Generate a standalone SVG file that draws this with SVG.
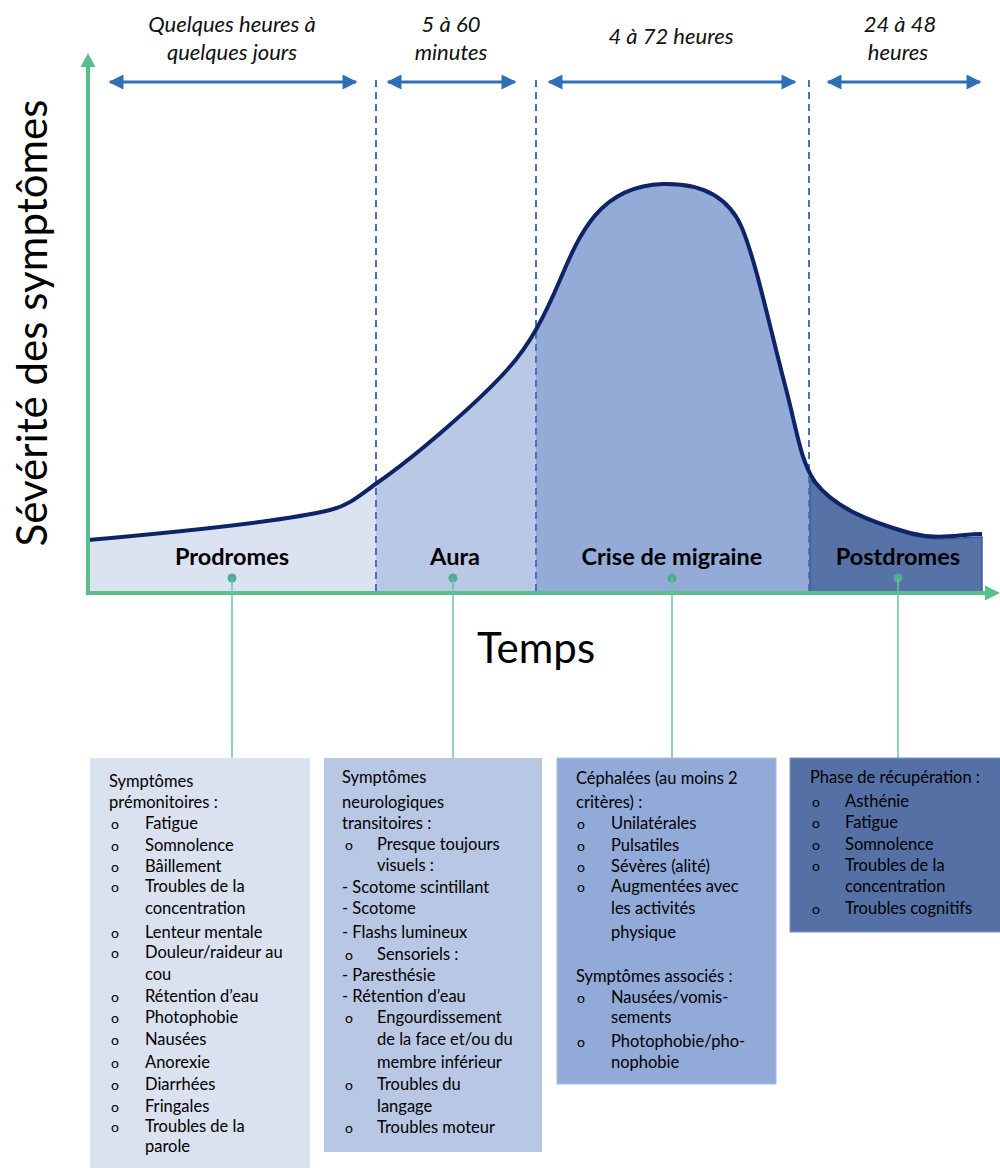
<svg xmlns="http://www.w3.org/2000/svg" width="1000" height="1168" viewBox="0 0 1000 1168">
<style>
.top{font-family:Lato,"Liberation Sans",sans-serif;font-style:italic;font-size:22px;fill:#111;text-anchor:middle}
.phase{font-family:Lato,"Liberation Sans",sans-serif;font-weight:bold;font-size:23.5px;fill:#000;text-anchor:middle}
.bx{font-family:Lato,"Liberation Sans",sans-serif;font-size:16.5px;fill:#000}
.bul{font-family:Lato,"Liberation Sans",sans-serif;font-size:14px;fill:#000}
.axis{stroke:#5BBE8D;stroke-width:4;fill:none}
.dash{stroke:#4A72C4;stroke-width:2;stroke-dasharray:7 5;fill:none}
.dur{stroke:#2F6EBA;stroke-width:3;fill:none;marker-start:url(#ah);marker-end:url(#ah)}
.conn{stroke:#6CC0A8;stroke-width:1.5;fill:none}
.dot{fill:#4FAE92}
</style>
<defs>
<marker id="ah" viewBox="0 0 10 10" refX="9" refY="5" markerWidth="5.5" markerHeight="5" orient="auto-start-reverse" markerUnits="strokeWidth">
<path d="M0,0 L10,5 L0,10 Z" fill="#2F6EBA"/>
</marker>
<path id="curve" d="M88,540 C200,530 290,520 330,510 C350,505 360,495 377,483 C420,453 480,400 507,370 C530,345 545,315 560,280 C580,233 600,186 663,184 C700,183 728,195 742,228 C756,262 768,320 785,385 C797,430 800,460 815,482 C835,508 870,522 910,533 C940,541 960,534 982,534"/>
<clipPath id="cP"><rect x="88" y="0" width="288" height="600"/></clipPath>
<clipPath id="cA"><rect x="376" y="0" width="160" height="600"/></clipPath>
<clipPath id="cC"><rect x="536" y="0" width="274" height="600"/></clipPath>
<path id="area" d="M88,540 C200,530 290,520 330,510 C350,505 360,495 377,483 C420,453 480,400 507,370 C530,345 545,315 560,280 C580,233 600,186 663,184 C700,183 728,195 742,228 C756,262 768,320 785,385 C797,430 800,460 815,482 C835,508 870,522 910,533 C940,541 960,534 982,534 L982,593 L88,593 Z"/>
</defs>
<rect width="1000" height="1168" fill="#fff"/>

<g id="prodromes">
<use href="#area" fill="#DBE2F0" clip-path="url(#cP)"/>
<text class="phase" x="232" y="565">Prodromes</text>
<circle class="dot" cx="232" cy="578" r="4.5"/>
</g>
<g id="aura">
<use href="#area" fill="#B9C8E5" clip-path="url(#cA)"/>
<text class="phase" x="455" y="565">Aura</text>
<circle class="dot" cx="453" cy="578" r="4.5"/>
</g>
<g id="crise">
<use href="#area" fill="#94ABD8" clip-path="url(#cC)"/>
<text class="phase" x="672" y="565">Crise de migraine</text>
<circle class="dot" cx="672" cy="578" r="4.5"/>
</g>
<g id="postdromes">
<path d="M810,479 C835,508 870,522 910,535 C940,543 960,537 982,537 L982,592 L810,592 Z" fill="#5672A6" stroke="#3E5A92" stroke-width="1.5"/>
<text class="phase" x="898" y="565">Postdromes</text>
<circle class="dot" cx="898" cy="578" r="4.5"/>
</g>

<g id="dashes">
<line class="dash" x1="376" y1="80" x2="376" y2="593"/>
<line class="dash" x1="536" y1="80" x2="536" y2="593"/>
<line class="dash" x1="809" y1="80" x2="809" y2="593"/>
</g>

<use href="#curve" fill="none" stroke="#0E2466" stroke-width="4"/>

<g id="axes">
<line class="axis" x1="88" y1="595" x2="88" y2="66"/>
<path d="M80.5,67 L88,53 L95.5,67 Z" fill="#5BBE8D"/>
<line class="axis" x1="86" y1="593" x2="986" y2="593"/>
<path d="M985,585.5 L1000,593 L985,600.5 Z" fill="#5BBE8D"/>
<text x="536" y="663" font-family="Lato,'Liberation Sans',sans-serif" font-size="42" text-anchor="middle" fill="#000">Temps</text>
<text transform="translate(47,323) rotate(-90)" font-family="Lato,'Liberation Sans',sans-serif" font-size="42" text-anchor="middle" fill="#000" textLength="447" lengthAdjust="spacingAndGlyphs">Sévérité des symptômes</text>
</g>

<g id="durations">
<line class="dur" x1="110" y1="82" x2="356" y2="82"/>
<line class="dur" x1="388" y1="82" x2="515" y2="82"/>
<line class="dur" x1="549" y1="82" x2="795" y2="82"/>
<line class="dur" x1="828" y1="82" x2="980" y2="82"/>
<text class="top" x="232" y="32">Quelques heures à</text>
<text class="top" x="232" y="60">quelques jours</text>
<text class="top" x="451" y="32">5 à 60</text>
<text class="top" x="451" y="60">minutes</text>
<text class="top" x="671" y="44">4 à 72 heures</text>
<text class="top" x="900" y="32">24 à 48</text>
<text class="top" x="898" y="60">heures</text>
</g>

<g id="connectors">
<line class="conn" x1="232" y1="578" x2="232" y2="758"/>
<line class="conn" x1="453" y1="578" x2="453" y2="758"/>
<line class="conn" x1="672" y1="578" x2="672" y2="758"/>
<line class="conn" x1="898" y1="578" x2="898" y2="758"/>
</g>

<g id="box-prodromes">
<rect x="90" y="758" width="220" height="412" fill="#DAE1EF"/>
<text class="bx" x="109" y="787">Symptômes</text>
<text class="bx" x="109" y="808">prémonitoires :</text>
<g class="bul"><text x="111" y="829">o</text><text x="111" y="851">o</text><text x="111" y="872">o</text><text x="111" y="892">o</text><text x="111" y="938">o</text><text x="111" y="958">o</text><text x="111" y="1002">o</text><text x="111" y="1023">o</text><text x="111" y="1045">o</text><text x="111" y="1068">o</text><text x="111" y="1090">o</text><text x="111" y="1112">o</text><text x="111" y="1132">o</text></g>
<text class="bx" x="145" y="829">Fatigue</text>
<text class="bx" x="145" y="851">Somnolence</text>
<text class="bx" x="145" y="872">Bâillement</text>
<text class="bx" x="145" y="892">Troubles de la</text>
<text class="bx" x="145" y="914">concentration</text>
<text class="bx" x="145" y="938">Lenteur mentale</text>
<text class="bx" x="145" y="958">Douleur/raideur au</text>
<text class="bx" x="145" y="980">cou</text>
<text class="bx" x="145" y="1002">Rétention d’eau</text>
<text class="bx" x="145" y="1023">Photophobie</text>
<text class="bx" x="145" y="1045">Nausées</text>
<text class="bx" x="145" y="1068">Anorexie</text>
<text class="bx" x="145" y="1090">Diarrhées</text>
<text class="bx" x="145" y="1112">Fringales</text>
<text class="bx" x="145" y="1132">Troubles de la</text>
<text class="bx" x="145" y="1152">parole</text>
</g>

<g id="box-aura">
<rect x="324" y="758" width="218" height="394" fill="#B8C7E4"/>
<text class="bx" x="342" y="783">Symptômes</text>
<text class="bx" x="342" y="808">neurologiques</text>
<text class="bx" x="342" y="829">transitoires :</text>
<g class="bul"><text x="345" y="850">o</text><text x="345" y="960">o</text><text x="345" y="1023">o</text><text x="345" y="1090">o</text><text x="345" y="1133">o</text></g>
<text class="bx" x="377" y="850">Presque toujours</text>
<text class="bx" x="377" y="871">visuels :</text>
<text class="bx" x="342" y="893">- Scotome scintillant</text>
<text class="bx" x="342" y="914">- Scotome</text>
<text class="bx" x="342" y="938">- Flashs lumineux</text>
<text class="bx" x="377" y="960">Sensoriels :</text>
<text class="bx" x="342" y="981">- Paresthésie</text>
<text class="bx" x="342" y="1002">- Rétention d’eau</text>
<text class="bx" x="377" y="1023">Engourdissement</text>
<text class="bx" x="377" y="1045">de la face et/ou du</text>
<text class="bx" x="377" y="1068">membre inférieur</text>
<text class="bx" x="377" y="1090">Troubles du</text>
<text class="bx" x="377" y="1112">langage</text>
<text class="bx" x="377" y="1133">Troubles moteur</text>
</g>

<g id="box-crise">
<rect x="557" y="758" width="219" height="326" fill="#92AAD8" stroke="#A9BDE3" stroke-width="1"/>
<text class="bx" x="576" y="784">Céphalées (au moins 2</text>
<text class="bx" x="576" y="808">critères) :</text>
<g class="bul"><text x="577" y="829">o</text><text x="577" y="851">o</text><text x="577" y="872">o</text><text x="577" y="892">o</text><text x="577" y="1003">o</text><text x="577" y="1047">o</text></g>
<text class="bx" x="611" y="829">Unilatérales</text>
<text class="bx" x="611" y="851">Pulsatiles</text>
<text class="bx" x="611" y="872">Sévères (alité)</text>
<text class="bx" x="611" y="892">Augmentées avec</text>
<text class="bx" x="611" y="914">les activités</text>
<text class="bx" x="611" y="938">physique</text>
<text class="bx" x="576" y="982">Symptômes associés :</text>
<text class="bx" x="611" y="1003">Nausées/vomis-</text>
<text class="bx" x="611" y="1023">sements</text>
<text class="bx" x="611" y="1047">Photophobie/pho-</text>
<text class="bx" x="611" y="1068">nophobie</text>
</g>

<g id="box-postdromes">
<rect x="790" y="758" width="212" height="174" fill="#5570A4" stroke="#7D95C6" stroke-width="1"/>
<text class="bx" x="810" y="783">Phase de récupération :</text>
<g class="bul"><text x="812" y="807">o</text><text x="812" y="828">o</text><text x="812" y="850">o</text><text x="812" y="871">o</text><text x="812" y="914">o</text></g>
<text class="bx" x="845" y="807">Asthénie</text>
<text class="bx" x="845" y="828">Fatigue</text>
<text class="bx" x="845" y="850">Somnolence</text>
<text class="bx" x="845" y="871">Troubles de la</text>
<text class="bx" x="845" y="892">concentration</text>
<text class="bx" x="845" y="914">Troubles cognitifs</text>
</g>
</svg>
